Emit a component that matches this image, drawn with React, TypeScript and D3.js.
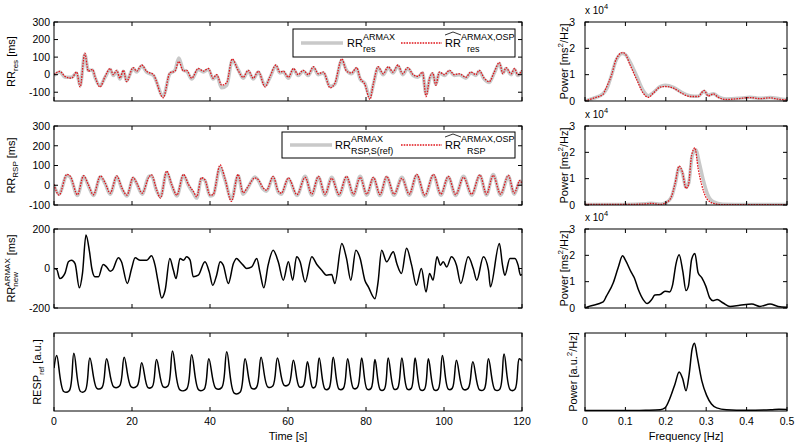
import React from "react";
import * as d3 from "d3";

type P = [number, number];

// ---------- tick values ----------
const timeTicks = [0, 20, 40, 60, 80, 100, 120];
const freqTicks = [0, 0.1, 0.2, 0.3, 0.4, 0.5];
const resYTicks = [-100, 0, 100, 200, 300];
const rspYTicks = [-100, 0, 100, 200, 300];
const newYTicks = [-200, 0, 200];
const powYTicks = [0, 1, 2, 3];

// ---------- panel 1: RR_res (ms) ----------
const rrResOsp: P[] = [[0,0],[1.5,19],[2.8,-10],[4.5,-20],[5.8,15],[6.7,-70],[7.9,122],[8.8,20],[9.9,30],[10.5,-10],[11.8,-70],[13.1,-10],[14.4,35],[15.2,0],[16.1,25],[16.9,-20],[17.8,25],[18.6,-40],[20.3,40],[21.2,20],[22.5,55],[23.7,20],[25.5,0],[28.0,-132],[29.7,10],[31.0,20],[32.0,75],[33.2,20],[34.0,25],[35.3,-20],[37.0,35],[38.3,20],[39.6,35],[40.8,-20],[41.7,0],[43.0,-60],[44.3,-45],[45.7,89],[47.3,20],[48.5,-15],[49.8,25],[51.1,-20],[52.4,20],[54.1,-70],[55.4,-10],[56.9,55],[57.9,15],[58.8,20],[60.1,-15],[61.4,35],[62.6,0],[63.9,25],[65.2,0],[66.5,45],[67.8,5],[69.1,15],[70.8,-75],[72.0,-50],[73.8,90],[75.0,20],[76.3,10],[77.6,40],[78.5,-20],[79.7,-55],[81.0,-141],[81.9,-50],[83.1,45],[84.4,5],[85.7,45],[86.9,15],[88.2,55],[89.4,5],[90.7,40],[92.1,0],[93.3,-10],[94.5,15],[95.4,-125],[96.3,-20],[97.1,10],[97.9,-60],[98.8,15],[100.1,0],[101.4,25],[102.6,0],[103.9,5],[105.6,-15],[106.9,15],[108.2,0],[109.0,25],[110.3,-20],[111.6,-40],[112.9,15],[114.2,70],[115.1,5],[115.9,40],[117.2,5],[118.1,35],[118.9,0],[120,25]];
const rrResRef: P[] = [[0,-5],[1.5,15],[2.8,-15],[4.5,-15],[5.8,10],[6.7,-62],[7.9,115],[8.8,25],[9.9,25],[10.5,-15],[11.8,-62],[13.1,-15],[14.4,30],[15.2,-5],[16.1,20],[16.9,-25],[17.8,20],[18.6,-35],[20.3,35],[21.2,15],[22.5,50],[23.7,15],[25.5,-5],[28.0,-122],[29.7,5],[31.0,25],[32.0,95],[33.2,25],[34.0,20],[35.3,-25],[37.0,30],[38.3,15],[39.6,30],[40.8,-25],[41.7,-5],[43.0,-75],[44.3,-60],[45.7,80],[47.3,25],[48.5,-20],[49.8,20],[51.1,-25],[52.4,15],[54.1,-62],[55.4,-15],[56.9,50],[57.9,10],[58.8,15],[60.1,-20],[61.4,30],[62.6,-5],[63.9,20],[65.2,-5],[66.5,40],[67.8,0],[69.1,10],[70.8,-68],[72.0,-55],[73.8,82],[75.0,25],[76.3,5],[77.6,35],[78.5,-25],[79.7,-50],[81.0,-128],[81.9,-55],[83.1,40],[84.4,0],[85.7,40],[86.9,10],[88.2,50],[89.4,0],[90.7,35],[92.1,-5],[93.3,-15],[94.5,10],[95.4,-110],[96.3,-25],[97.1,5],[97.9,-55],[98.8,10],[100.1,-5],[101.4,20],[102.6,-5],[103.9,0],[105.6,-20],[106.9,10],[108.2,-5],[109.0,20],[110.3,-25],[111.6,-45],[112.9,10],[114.2,62],[115.1,10],[115.9,35],[117.2,0],[118.1,30],[118.9,-5],[120,20]];

// ---------- panel 2: RR_RSP (ms) ----------
const rrRspOsp: P[] = [[0,5],[1.3,-50],[3.3,55],[4.2,45],[6.0,-48],[7.6,48],[8.8,3],[10.1,-48],[11.9,47],[13.1,12],[14.4,-40],[16.1,47],[17.4,-13],[18.7,-50],[20.3,40],[21.2,12],[22.6,-40],[24.3,40],[25.0,53],[26.3,-22],[27.3,-65],[28.9,72],[30.2,3],[31.5,-50],[33.2,55],[34.5,3],[35.7,-30],[36.6,-58],[37.8,38],[38.7,28],[40.0,-50],[40.8,-48],[42.6,103],[43.8,37],[45.5,-82],[47.2,55],[48.5,-38],[49.8,-5],[51.5,37],[52.4,28],[53.6,-13],[54.5,-25],[56.2,45],[57.5,-30],[58.3,-40],[60.1,37],[62.3,-47],[64.4,40],[66.1,-45],[67.8,45],[69.5,-45],[71.2,35],[73.1,-47],[75.0,45],[76.8,-45],[78.5,40],[80.2,-45],[81.9,40],[83.6,-47],[85.3,45],[87.2,-45],[89.2,35],[91.1,-45],[93.0,55],[95.1,-50],[97.3,55],[99.2,-45],[101.1,45],[103.0,-47],[105.0,40],[107.1,-45],[109.2,53],[110.9,-45],[112.6,50],[114.5,-45],[116.5,50],[118.0,-40],[119.5,25],[120,5]];
const rrRspRef: P[] = [[0,0],[1.3,-45],[3.3,50],[4.2,40],[6.0,-52],[7.6,44],[8.8,-2],[10.1,-52],[11.9,43],[13.1,8],[14.4,-45],[16.1,43],[17.4,-18],[18.7,-55],[20.3,36],[21.2,8],[22.6,-45],[24.3,45],[25.0,48],[26.3,-28],[27.3,-58],[28.9,65],[30.2,-2],[31.5,-55],[33.2,50],[34.5,-2],[35.7,-40],[36.6,-65],[37.8,33],[38.7,24],[40.0,-55],[40.8,-50],[42.6,90],[43.8,30],[45.5,-70],[47.2,48],[48.5,-45],[49.8,-10],[51.5,42],[52.4,24],[53.6,-20],[54.5,-30],[56.2,40],[57.5,-35],[58.3,-45],[60.1,33],[62.3,-52],[64.4,45],[66.1,-50],[67.8,40],[69.5,-50],[71.2,40],[73.1,-52],[75.0,40],[76.8,-50],[78.5,45],[80.2,-50],[81.9,35],[83.6,-52],[85.3,40],[87.2,-50],[89.2,40],[91.1,-50],[93.0,50],[95.1,-55],[97.3,50],[99.2,-50],[101.1,40],[103.0,-52],[105.0,45],[107.1,-50],[109.2,48],[110.9,-50],[112.6,55],[114.5,-50],[116.5,45],[118.0,-45],[119.5,20],[120,0]];

// ---------- panel 3: RR_new (ms) ----------
const rrNew: P[] = [[0,0],[0.7,-5],[1.5,-51],[2.8,-25],[3.7,34],[4.5,42],[5.4,25],[6.5,-98],[7.3,-25],[8.2,170],[9.1,85],[9.7,0],[10.5,-42],[11.4,-42],[12.6,20],[13.5,8],[14.4,-14],[15.0,-8],[16.5,54],[17.3,34],[18.8,-76],[19.9,0],[20.8,54],[22.1,42],[23.8,42],[25.0,64],[25.9,17],[26.7,-68],[27.6,-149],[28.5,-110],[29.7,51],[30.6,-8],[31.3,-51],[32.3,51],[33.2,42],[34.0,59],[34.9,42],[35.7,-42],[37.0,-34],[38.7,34],[39.8,-17],[40.7,-85],[41.7,-34],[42.6,34],[43.4,17],[44.7,-76],[46.0,25],[46.8,51],[47.7,34],[48.5,17],[49.4,0],[50.7,8],[52.0,51],[52.8,-17],[53.8,-98],[54.9,17],[56.2,93],[57.5,34],[58.8,-59],[60.1,34],[61.2,-59],[62.2,59],[63.1,34],[64.4,-68],[66.1,59],[67.4,20],[68.6,-8],[69.9,-34],[71.2,-30],[72.0,-76],[73.8,127],[75.0,51],[76.1,-59],[77.4,93],[78.5,51],[79.7,-59],[80.6,-93],[82.3,-153],[83.1,-68],[84.0,93],[85.3,34],[87.0,85],[87.9,25],[89.1,-25],[90.4,102],[91.7,17],[92.9,-85],[94.2,0],[95.4,-119],[96.3,-25],[97.2,-59],[98.2,59],[99.1,17],[99.8,34],[100.7,8],[101.9,59],[103.2,17],[104.3,-76],[106.2,59],[107.5,0],[108.4,-59],[110.1,59],[111.4,-8],[111.9,-93],[114.2,127],[115.0,17],[115.6,-34],[116.9,51],[118.2,51],[119.0,17],[119.6,-34],[120,-30]];

// ---------- panel 4: RESP_ref (a.u.) ----------
const respRef: P[] = [[0,0.55],[0.7,0.71],[2.5,0.25],[3.9,0.26],[5.1,0.74],[6.8,0.25],[8.0,0.26],[9.2,0.68],[11.0,0.29],[12.3,0.3],[13.5,0.67],[15.3,0.31],[16.8,0.32],[18.0,0.69],[19.8,0.31],[21.3,0.32],[22.5,0.62],[24.1,0.3],[25.2,0.31],[26.3,0.66],[28.0,0.31],[29.2,0.32],[30.4,0.77],[32.3,0.27],[34.0,0.28],[35.3,0.72],[37.1,0.27],[38.5,0.28],[39.7,0.67],[41.5,0.29],[43.0,0.3],[44.3,0.76],[46.2,0.23],[47.7,0.24],[49.0,0.67],[50.7,0.29],[51.9,0.3],[53.1,0.69],[54.8,0.31],[56.1,0.32],[57.3,0.68],[59.0,0.33],[60.2,0.34],[61.4,0.65],[62.9,0.31],[63.9,0.32],[65.0,0.63],[66.3,0.3],[67.0,0.31],[68.0,0.68],[69.5,0.28],[70.5,0.29],[71.6,0.69],[73.1,0.28],[74.2,0.29],[75.3,0.67],[76.8,0.29],[77.8,0.3],[78.9,0.68],[80.3,0.28],[81.3,0.29],[82.3,0.66],[83.7,0.27],[84.7,0.28],[85.7,0.68],[87.2,0.28],[88.1,0.29],[89.2,0.68],[90.6,0.28],[91.6,0.29],[92.6,0.68],[94.0,0.27],[95.0,0.28],[96.0,0.67],[97.5,0.27],[98.5,0.28],[99.6,0.71],[101.1,0.28],[102.1,0.29],[103.2,0.65],[104.9,0.28],[106.2,0.29],[107.4,0.63],[109.1,0.27],[110.3,0.28],[111.4,0.67],[113.1,0.27],[114.3,0.28],[115.4,0.73],[117.0,0.27],[118.2,0.28],[119.3,0.67],[120,0.64]];

// ---------- spectra (x1e4 ms^2/Hz, a.u.) ----------
const psdResOsp: P[] = [[0,0],[0.02,0.1],[0.045,0.26],[0.05,0.42],[0.066,1.0],[0.077,1.58],[0.093,1.84],[0.1,1.78],[0.111,1.39],[0.128,0.81],[0.144,0.3],[0.157,0.14],[0.169,0.3],[0.186,0.53],[0.198,0.55],[0.219,0.49],[0.239,0.3],[0.26,0.17],[0.28,0.17],[0.295,0.4],[0.305,0.19],[0.318,0.27],[0.33,0.14],[0.35,0.06],[0.38,0.09],[0.408,0.13],[0.433,0.09],[0.458,0.12],[0.483,0.06],[0.5,0.04]];
const psdResRef: P[] = [[0,0],[0.02,0.1],[0.045,0.28],[0.055,0.5],[0.066,1.0],[0.077,1.55],[0.093,1.8],[0.1,1.76],[0.111,1.5],[0.128,0.95],[0.144,0.4],[0.157,0.2],[0.169,0.32],[0.186,0.55],[0.198,0.6],[0.219,0.52],[0.239,0.33],[0.26,0.2],[0.28,0.18],[0.295,0.37],[0.305,0.22],[0.318,0.28],[0.33,0.16],[0.35,0.08],[0.38,0.1],[0.408,0.14],[0.433,0.1],[0.458,0.13],[0.483,0.08],[0.5,0.05]];
const psdRspOsp: P[] = [[0,0.02],[0.1,0.02],[0.15,0.04],[0.165,0.06],[0.186,0.02],[0.202,0.1],[0.214,0.32],[0.223,0.82],[0.233,1.48],[0.241,1.26],[0.25,0.63],[0.256,0.76],[0.264,1.89],[0.272,2.17],[0.28,1.39],[0.289,0.76],[0.301,0.25],[0.318,0.06],[0.342,0.01],[0.4,0.01],[0.5,0.01]];
const psdRspRef: P[] = [[0,0.02],[0.1,0.02],[0.15,0.05],[0.165,0.07],[0.186,0.03],[0.202,0.1],[0.214,0.3],[0.223,0.78],[0.233,1.42],[0.241,1.22],[0.25,0.68],[0.257,0.85],[0.265,1.85],[0.274,2.1],[0.283,1.6],[0.292,1.0],[0.303,0.42],[0.318,0.12],[0.34,0.03],[0.4,0.02],[0.5,0.02]];
const psdNew: P[] = [[0,0],[0.01,0.06],[0.045,0.23],[0.053,0.45],[0.07,0.96],[0.082,1.53],[0.093,1.98],[0.101,1.79],[0.115,1.34],[0.122,1.15],[0.132,0.7],[0.144,0.32],[0.154,0.17],[0.165,0.32],[0.173,0.49],[0.186,0.51],[0.198,0.64],[0.209,0.61],[0.217,0.89],[0.225,1.66],[0.233,2.02],[0.242,1.4],[0.25,0.66],[0.256,0.83],[0.264,1.85],[0.272,2.07],[0.28,1.34],[0.289,1.15],[0.299,0.83],[0.309,0.38],[0.317,0.28],[0.327,0.32],[0.342,0.19],[0.359,0.06],[0.383,0.1],[0.413,0.15],[0.433,0.06],[0.458,0.15],[0.478,0.06],[0.5,0.03]];
const psdResp: P[] = [[0,0.005],[0.1,0.005],[0.15,0.01],[0.186,0.017],[0.198,0.04],[0.21,0.16],[0.223,0.35],[0.233,0.5],[0.242,0.41],[0.25,0.26],[0.258,0.48],[0.265,0.79],[0.271,0.87],[0.278,0.69],[0.289,0.39],[0.301,0.2],[0.313,0.09],[0.326,0.04],[0.35,0.017],[0.4,0.01],[0.46,0.015],[0.48,0.022],[0.5,0.02]];

const FONT = "'Liberation Sans', Arial, Helvetica, sans-serif";
const RED = "#e0141a";
const GRAY = "#c9c9c9";

const xT = d3.scaleLinear().domain([0, 120]).range([54, 522]);
const xF = d3.scaleLinear().domain([0, 0.5]).range([585, 787]);
const rows = [
  { top: 22, bottom: 101 },
  { top: 126, bottom: 205 },
  { top: 229, bottom: 308 },
  { top: 333, bottom: 411 },
];

function Frame({ x, y, xTicks, yTicks, xLabels, yLabels, yLabelX, fmt }: any) {
  const [x0, x1] = x.range();
  const [y0, y1] = [y.range()[1], y.range()[0]];
  const tl = 4;
  return (
    <g>
      {xTicks.map((t: number) => (
        <g key={"x" + t}>
          <line x1={x(t)} x2={x(t)} y1={y1} y2={y1 - tl} stroke="#000" />
          <line x1={x(t)} x2={x(t)} y1={y0} y2={y0 + tl} stroke="#000" />
          {xLabels && (
            <text x={x(t)} y={y1 + 14} textAnchor="middle" fontSize={10.5} fontFamily={FONT}>
              {fmt ? fmt(t) : t}
            </text>
          )}
        </g>
      ))}
      {yTicks.map((t: number) => (
        <g key={"y" + t}>
          <line x1={x0} x2={x0 + tl} y1={y(t)} y2={y(t)} stroke="#000" />
          <line x1={x1} x2={x1 - tl} y1={y(t)} y2={y(t)} stroke="#000" />
          {yLabels && (
            <text x={yLabelX} y={y(t) + 3.8} textAnchor="end" fontSize={10.5} fontFamily={FONT}>
              {t}
            </text>
          )}
        </g>
      ))}
      <rect x={x0} y={y0} width={x1 - x0} height={y1 - y0} fill="none" stroke="#000" strokeWidth={1} />
    </g>
  );
}

function path(data: P[], x: any, y: any, curve: any = d3.curveMonotoneX) {
  const g = d3.line<P>().x((d) => x(d[0])).y((d) => y(d[1])).curve(curve);
  return g(data) || "";
}

function Hat({ x, y, w }: { x: number; y: number; w: number }) {
  return <path d={`M${x},${y + 3} L${x + w / 2},${y} L${x + w},${y + 3}`} fill="none" stroke="#000" strokeWidth={0.8} />;
}

export default function App() {
  const yRes = d3.scaleLinear().domain([-150, 300]).range([rows[0].bottom, rows[0].top]);
  const yRsp = d3.scaleLinear().domain([-100, 300]).range([rows[1].bottom, rows[1].top]);
  const yNew = d3.scaleLinear().domain([-200, 200]).range([rows[2].bottom, rows[2].top]);
  const yResp = d3.scaleLinear().domain([0, 1]).range([rows[3].bottom, rows[3].top]);
  const yP = rows.slice(0, 3).map((r) => d3.scaleLinear().domain([0, 3]).range([r.bottom, r.top]));
  const yP4 = d3.scaleLinear().domain([0, 1]).range([rows[3].bottom, rows[3].top]);

  const clipL = (i: number) => `clipL${i}`;
  const clipR = (i: number) => `clipR${i}`;

  const mid = (i: number) => (rows[i].top + rows[i].bottom) / 2;
  const lbl = { fontFamily: FONT, fontSize: 11 } as any;
  const sub = 8;
  const cr = d3.curveCatmullRom.alpha(0.5);

  return (
    <svg width={797} height={446} style={{ position: "absolute", left: 0, top: 0, background: "#fff" }}>
      <defs>
        {rows.map((r, i) => (
          <React.Fragment key={i}>
            <clipPath id={clipL(i)}>
              <rect x={54} y={r.top} width={468} height={r.bottom - r.top} />
            </clipPath>
            <clipPath id={clipR(i)}>
              <rect x={585} y={r.top} width={202} height={r.bottom - r.top} />
            </clipPath>
          </React.Fragment>
        ))}
      </defs>
      <rect x={0} y={0} width={797} height={446} fill="#fff" />

      {/* ---------- left column ---------- */}
      <g clipPath={`url(#${clipL(0)})`}>
        <path d={path(rrResRef, xT, yRes)} fill="none" stroke={GRAY} strokeWidth={3.5} />
        <path d={path(rrResOsp, xT, yRes)} fill="none" stroke={RED} strokeWidth={1.3} strokeDasharray="1.6 1.1" />
      </g>
      <g clipPath={`url(#${clipL(1)})`}>
        <path d={path(rrRspRef, xT, yRsp)} fill="none" stroke={GRAY} strokeWidth={3.5} />
        <path d={path(rrRspOsp, xT, yRsp)} fill="none" stroke={RED} strokeWidth={1.3} strokeDasharray="1.6 1.1" />
      </g>
      <g clipPath={`url(#${clipL(2)})`}>
        <path d={path(rrNew, xT, yNew)} fill="none" stroke="#000" strokeWidth={1.5} />
      </g>
      <g clipPath={`url(#${clipL(3)})`}>
        <path d={path(respRef, xT, yResp, cr)} fill="none" stroke="#000" strokeWidth={1.5} />
      </g>
      <Frame x={xT} y={yRes} xTicks={timeTicks} yTicks={resYTicks} yLabels yLabelX={50} />
      <Frame x={xT} y={yRsp} xTicks={timeTicks} yTicks={rspYTicks} yLabels yLabelX={50} />
      <Frame x={xT} y={yNew} xTicks={timeTicks} yTicks={newYTicks} yLabels yLabelX={50} />
      <Frame x={xT} y={yResp} xTicks={timeTicks} yTicks={[]} xLabels />

      {/* left y labels */}
      <text {...lbl} transform={`translate(15,${mid(0)}) rotate(-90)`} textAnchor="middle">
        RR<tspan fontSize={sub} dy={3}>res</tspan>
        <tspan dy={-3}> [ms]</tspan>
      </text>
      <text {...lbl} transform={`translate(15,${mid(1)}) rotate(-90)`} textAnchor="middle">
        RR<tspan fontSize={sub} dy={3}>RSP</tspan>
        <tspan dy={-3}> [ms]</tspan>
      </text>
      <text {...lbl} transform={`translate(15,${mid(2)}) rotate(-90)`} textAnchor="middle">
        RR<tspan fontSize={sub} dy={3}>new</tspan>
        <tspan fontSize={sub} dx={-14.7} dy={-8}>ARMAX</tspan>
        <tspan dy={5}> [ms]</tspan>
      </text>
      <text {...lbl} transform={`translate(41,${mid(3)}) rotate(-90)`} textAnchor="middle">
        RESP<tspan fontSize={sub - 1} dy={3}>ref</tspan>
        <tspan dy={-3}> [a.u.]</tspan>
      </text>
      <text {...lbl} x={288} y={440} textAnchor="middle">Time [s]</text>

      {/* legend 1 */}
      <rect x={293} y={29} width={222} height={28} fill="#fff" stroke="#000" />
      <line x1={301} x2={343} y1={43} y2={43} stroke={GRAY} strokeWidth={3.5} />
      <text {...lbl} x={347} y={47}>
        RR<tspan fontSize={9} dy={-7}>ARMAX</tspan>
        <tspan fontSize={9} dx={-32} dy={12}>res</tspan>
      </text>
      <line x1={401} x2={442} y1={43} y2={43} stroke={RED} strokeWidth={1.3} strokeDasharray="1.6 1.1" />
      <Hat x={445} y={32} w={16} />
      <text {...lbl} x={445} y={47}>
        RR<tspan fontSize={9} dy={-7}>ARMAX,OSP</tspan>
        <tspan fontSize={9} dx={-47.5} dy={12}>res</tspan>
      </text>

      {/* legend 2 */}
      <rect x={282} y={132} width={233} height={26} fill="#fff" stroke="#000" />
      <line x1={290} x2={332} y1={145} y2={145} stroke={GRAY} strokeWidth={3.5} />
      <text {...lbl} x={335} y={149}>
        RR<tspan fontSize={9} dy={-7}>ARMAX</tspan>
        <tspan fontSize={9} dx={-32} dy={12}>RSP,S(ref)</tspan>
      </text>
      <line x1={401} x2={442} y1={145} y2={145} stroke={RED} strokeWidth={1.3} strokeDasharray="1.6 1.1" />
      <Hat x={445} y={134} w={16} />
      <text {...lbl} x={445} y={149}>
        RR<tspan fontSize={9} dy={-7}>ARMAX,OSP</tspan>
        <tspan fontSize={9} dx={-47.5} dy={12}>RSP</tspan>
      </text>

      {/* ---------- right column ---------- */}
      <g clipPath={`url(#${clipR(0)})`}>
        <path d={path(psdResRef, xF, yP[0])} fill="none" stroke={GRAY} strokeWidth={3.5} />
        <path d={path(psdResOsp, xF, yP[0])} fill="none" stroke={RED} strokeWidth={1.3} strokeDasharray="1.6 1.1" />
      </g>
      <g clipPath={`url(#${clipR(1)})`}>
        <path d={path(psdRspRef, xF, yP[1])} fill="none" stroke={GRAY} strokeWidth={3.5} />
        <path d={path(psdRspOsp, xF, yP[1])} fill="none" stroke={RED} strokeWidth={1.3} strokeDasharray="1.6 1.1" />
      </g>
      <g clipPath={`url(#${clipR(2)})`}>
        <path d={path(psdNew, xF, yP[2])} fill="none" stroke="#000" strokeWidth={1.5} />
      </g>
      <g clipPath={`url(#${clipR(3)})`}>
        <path d={path(psdResp, xF, yP4)} fill="none" stroke="#000" strokeWidth={1.5} />
      </g>
      {[0, 1, 2].map((i) => (
        <g key={i}>
          <Frame x={xF} y={yP[i]} xTicks={freqTicks} yTicks={powYTicks} yLabels yLabelX={575} />
          <text fontFamily={FONT} fontSize={10} x={585} y={rows[i].top - 8}>
            x 10<tspan fontSize={7.5} dy={-5}>4</tspan>
          </text>
          <text {...lbl} transform={`translate(568,${mid(i)}) rotate(-90)`} textAnchor="middle">
            Power [ms<tspan fontSize={sub} dy={-5}>2</tspan>
            <tspan dy={5}>/Hz]</tspan>
          </text>
        </g>
      ))}
      <Frame x={xF} y={yP4} xTicks={freqTicks} yTicks={[]} xLabels fmt={(t: number) => (t === 0 ? "0" : d3.format(".1f")(t))} />
      <text {...lbl} transform={`translate(577,${mid(3)}) rotate(-90)`} textAnchor="middle">
        Power [a.u.<tspan fontSize={sub} dy={-5}>2</tspan>
        <tspan dy={5}>/Hz]</tspan>
      </text>
      <text {...lbl} x={686} y={440} textAnchor="middle">Frequency [Hz]</text>
    </svg>
  );
}
